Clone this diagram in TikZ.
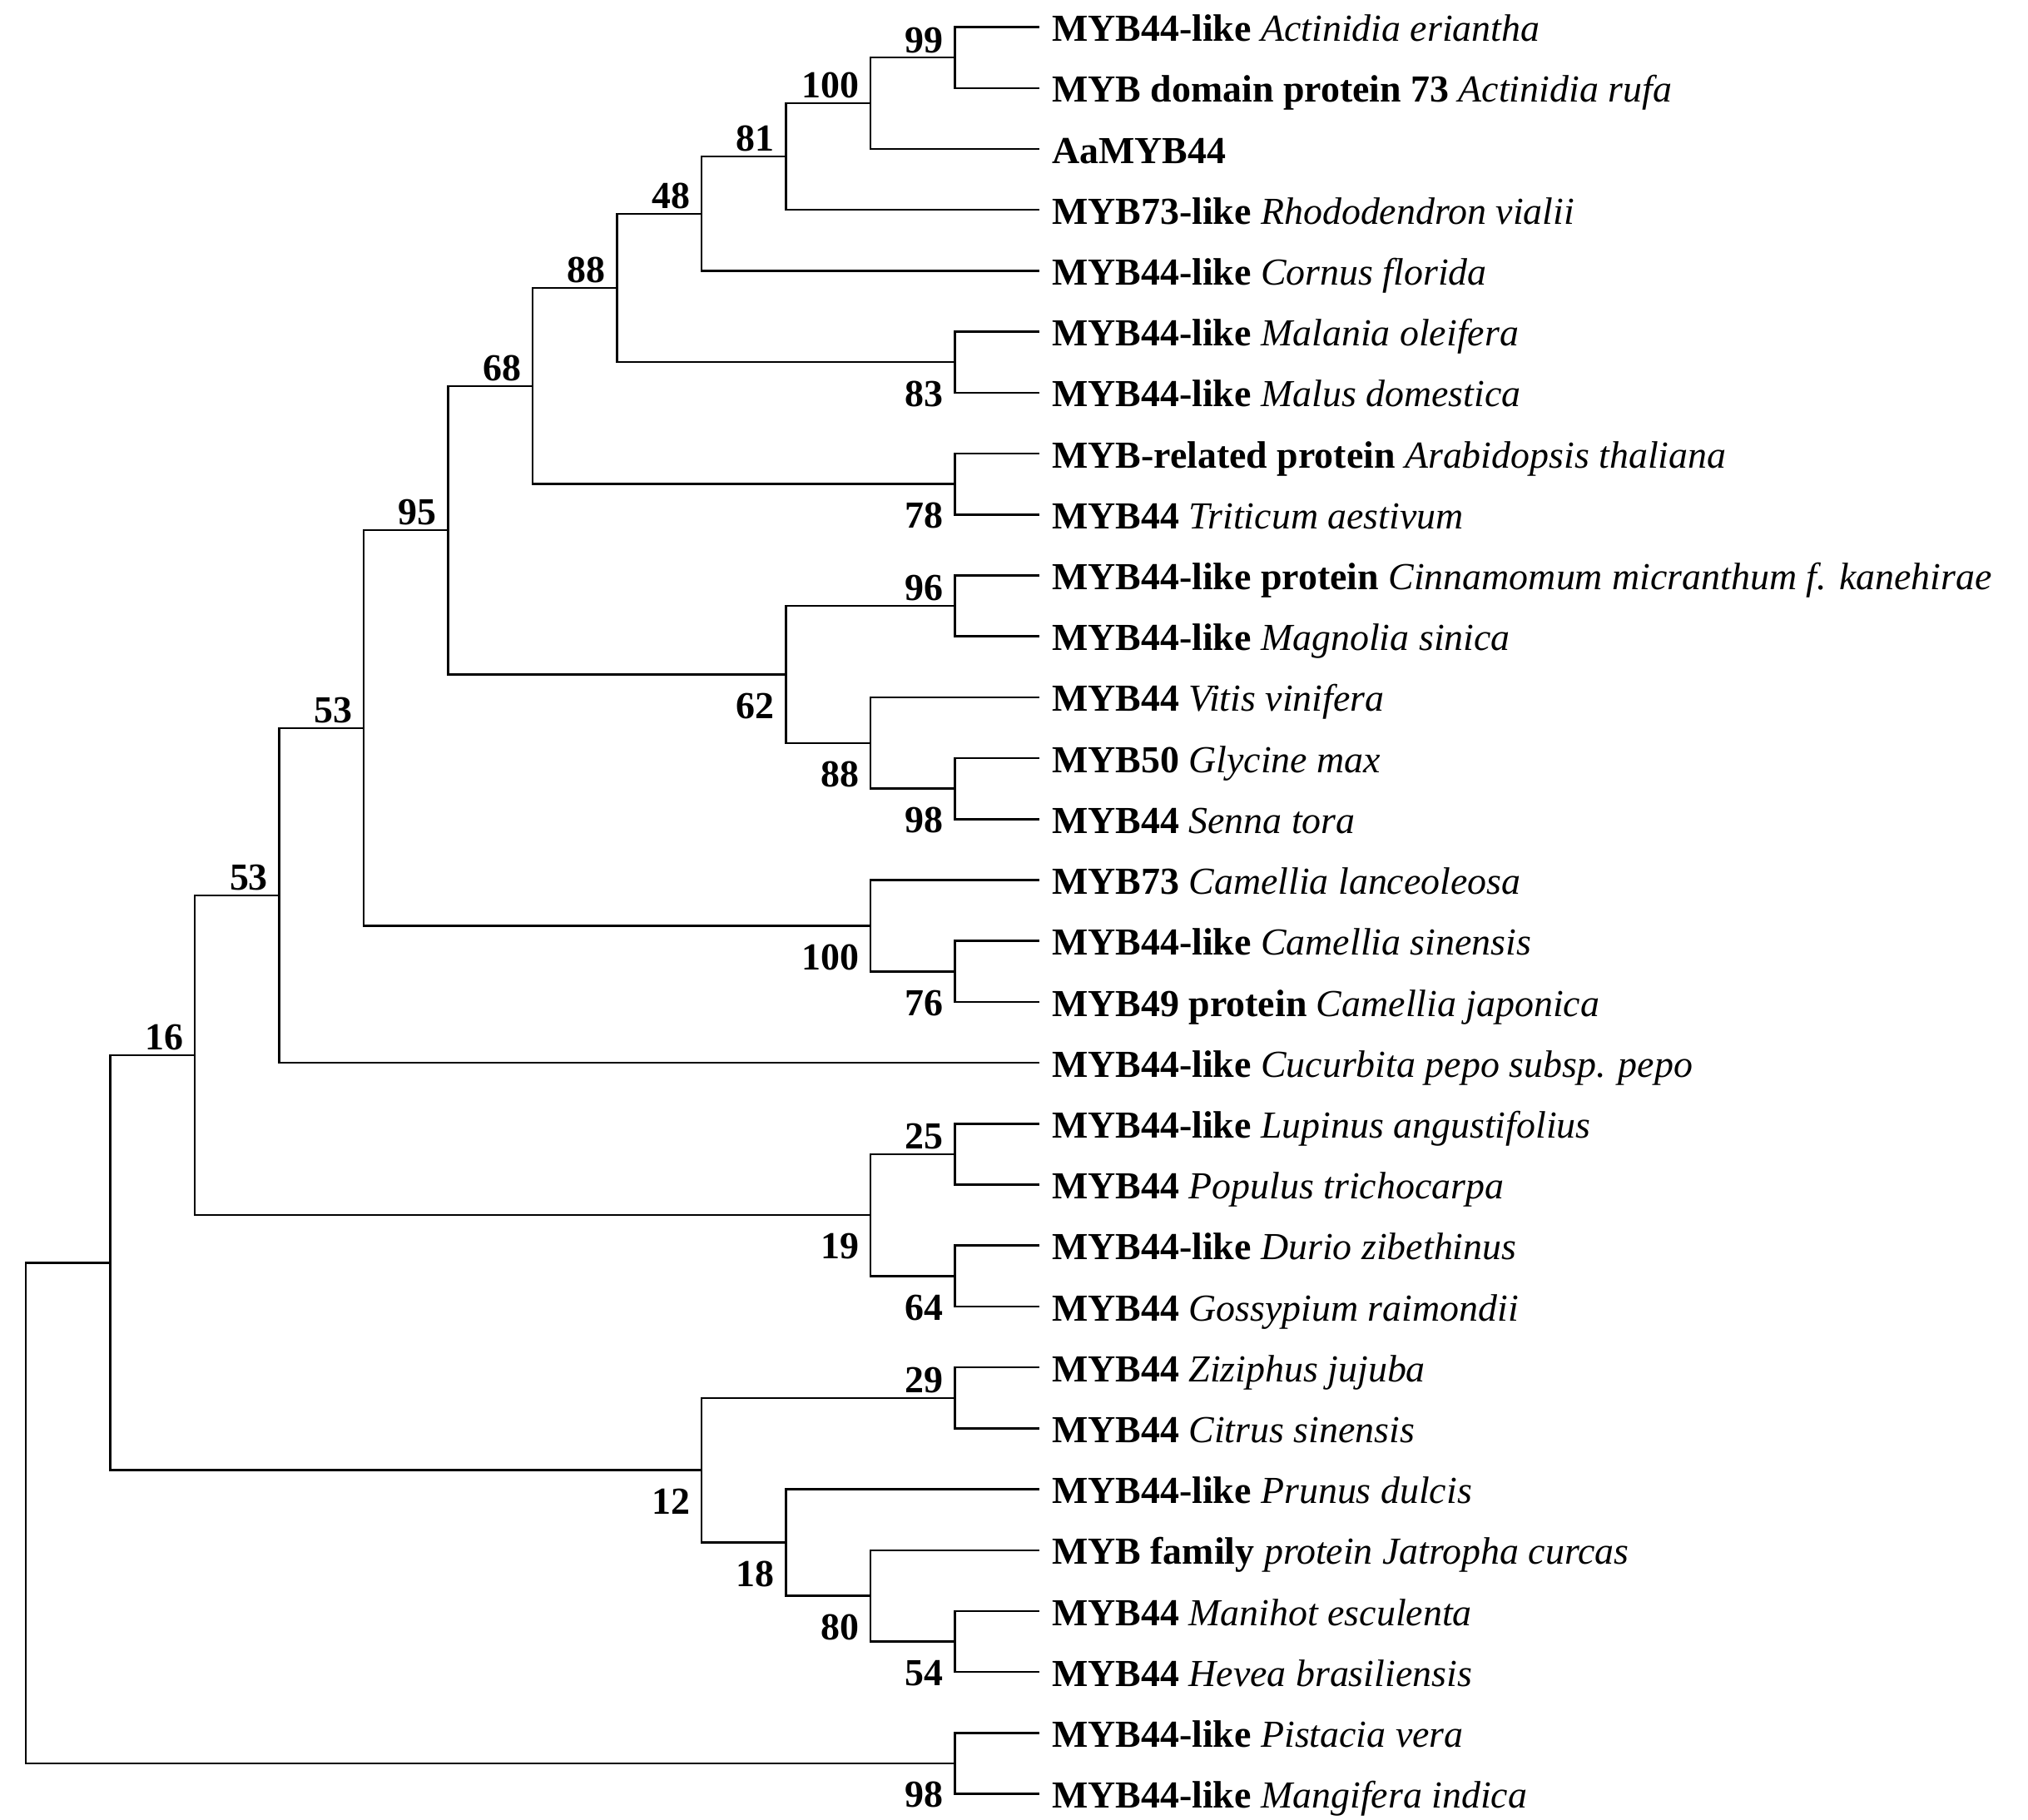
\documentclass[tikz,border=0pt]{standalone}
\usepackage{fontspec}
\setmainfont{Liberation Serif}
\newcommand{\species}[1]{{\mdseries\itshape #1}}

\begin{document}
\begin{tikzpicture}[x=1.306cm, y=-0.942cm, line width=0.9pt,
    leaf/.style={anchor=base west, inner sep=0pt, xshift=0.18cm, yshift=-0.22cm, font=\fontsize{16.8}{20}\selectfont\bfseries},
    bsup/.style={anchor=base east, inner sep=0pt, xshift=-0.16cm, yshift=0.08cm, font=\fontsize{16.8}{20}\selectfont\bfseries},
    bsdown/.style={anchor=base east, inner sep=0pt, xshift=-0.16cm, yshift=-0.68cm, font=\fontsize{16.8}{20}\selectfont\bfseries}]
\useasboundingbox (-0.3063,0.5541) rectangle (23.706,30.427);

% leaf tips
\foreach \i in {1,...,30} {
  \coordinate (t\i) at (12,\i);
}

% leaf labels
\node[leaf] (l1) at (t1) {MYB44-like \species{Actinidia eriantha}};
\node[leaf] (l2) at (t2) {MYB domain protein 73 \species{Actinidia rufa}};
\node[leaf] (l3) at (t3) {AaMYB44};
\node[leaf] (l4) at (t4) {MYB73-like \species{Rhododendron vialii}};
\node[leaf] (l5) at (t5) {MYB44-like \species{Cornus florida}};
\node[leaf] (l6) at (t6) {MYB44-like \species{Malania oleifera}};
\node[leaf] (l7) at (t7) {MYB44-like \species{Malus domestica}};
\node[leaf] (l8) at (t8) {MYB-related protein \species{Arabidopsis thaliana}};
\node[leaf] (l9) at (t9) {MYB44 \species{Triticum aestivum}};
\node[leaf] (l10) at (t10) {MYB44-like protein \species{Cinnamomum micranthum f. kanehirae}};
\node[leaf] (l11) at (t11) {MYB44-like \species{Magnolia sinica}};
\node[leaf] (l12) at (t12) {MYB44 \species{Vitis vinifera}};
\node[leaf] (l13) at (t13) {MYB50 \species{Glycine max}};
\node[leaf] (l14) at (t14) {MYB44 \species{Senna tora}};
\node[leaf] (l15) at (t15) {MYB73 \species{Camellia lanceoleosa}};
\node[leaf] (l16) at (t16) {MYB44-like \species{Camellia sinensis}};
\node[leaf] (l17) at (t17) {MYB49 protein \species{Camellia japonica}};
\node[leaf] (l18) at (t18) {MYB44-like \species{Cucurbita pepo subsp. pepo}};
\node[leaf] (l19) at (t19) {MYB44-like \species{Lupinus angustifolius}};
\node[leaf] (l20) at (t20) {MYB44 \species{Populus trichocarpa}};
\node[leaf] (l21) at (t21) {MYB44-like \species{Durio zibethinus}};
\node[leaf] (l22) at (t22) {MYB44 \species{Gossypium raimondii}};
\node[leaf] (l23) at (t23) {MYB44 \species{Ziziphus jujuba}};
\node[leaf] (l24) at (t24) {MYB44 \species{Citrus sinensis}};
\node[leaf] (l25) at (t25) {MYB44-like \species{Prunus dulcis}};
\node[leaf] (l26) at (t26) {MYB family \species{protein Jatropha curcas}};
\node[leaf] (l27) at (t27) {MYB44 \species{Manihot esculenta}};
\node[leaf] (l28) at (t28) {MYB44 \species{Hevea brasiliensis}};
\node[leaf] (l29) at (t29) {MYB44-like \species{Pistacia vera}};
\node[leaf] (l30) at (t30) {MYB44-like \species{Mangifera indica}};

% inner nodes
\coordinate (n99) at (11,1.5);
\coordinate (n100a) at (10,2.25);
\coordinate (n81) at (9,3.125);
\coordinate (n48) at (8,4.0625);
\coordinate (n83) at (11,6.5);
\coordinate (n88a) at (7,5.28125);
\coordinate (n78) at (11,8.5);
\coordinate (n68) at (6,6.890625);
\coordinate (n96) at (11,10.5);
\coordinate (n98a) at (11,13.5);
\coordinate (n88b) at (10,12.75);
\coordinate (n62) at (9,11.625);
\coordinate (n95) at (5,9.2578);
\coordinate (n76) at (11,16.5);
\coordinate (n100b) at (10,15.75);
\coordinate (n53a) at (4,12.5039);
\coordinate (n53b) at (3,15.252);
\coordinate (n25) at (11,19.5);
\coordinate (n64) at (11,21.5);
\coordinate (n19) at (10,20.5);
\coordinate (n16) at (2,17.876);
\coordinate (n29) at (11,23.5);
\coordinate (n54) at (11,27.5);
\coordinate (n80) at (10,26.75);
\coordinate (n18) at (9,25.875);
\coordinate (n12) at (8,24.6875);
\coordinate (n1612) at (1,21.2817);
\coordinate (n98b) at (11,29.5);
\coordinate (root) at (0,25.39);

% branches
\draw (n99) |- (t1);
\draw (n99) |- (t2);
\draw (n100a) |- (n99);
\draw (n100a) |- (t3);
\draw (n81) |- (n100a);
\draw (n81) |- (t4);
\draw (n48) |- (n81);
\draw (n48) |- (t5);
\draw (n83) |- (t6);
\draw (n83) |- (t7);
\draw (n88a) |- (n48);
\draw (n88a) |- (n83);
\draw (n78) |- (t8);
\draw (n78) |- (t9);
\draw (n68) |- (n88a);
\draw (n68) |- (n78);

\draw (n96) |- (t10);
\draw (n96) |- (t11);
\draw (n98a) |- (t13);
\draw (n98a) |- (t14);
\draw (n88b) |- (t12);
\draw (n88b) |- (n98a);
\draw (n62) |- (n96);
\draw (n62) |- (n88b);
\draw (n95) |- (n68);
\draw (n95) |- (n62);

\draw (n76) |- (t16);
\draw (n76) |- (t17);
\draw (n100b) |- (t15);
\draw (n100b) |- (n76);
\draw (n53a) |- (n95);
\draw (n53a) |- (n100b);
\draw (n53b) |- (n53a);
\draw (n53b) |- (t18);

\draw (n25) |- (t19);
\draw (n25) |- (t20);
\draw (n64) |- (t21);
\draw (n64) |- (t22);
\draw (n19) |- (n25);
\draw (n19) |- (n64);
\draw (n16) |- (n53b);
\draw (n16) |- (n19);

\draw (n29) |- (t23);
\draw (n29) |- (t24);
\draw (n54) |- (t27);
\draw (n54) |- (t28);
\draw (n80) |- (t26);
\draw (n80) |- (n54);
\draw (n18) |- (t25);
\draw (n18) |- (n80);
\draw (n12) |- (n29);
\draw (n12) |- (n18);
\draw (n1612) |- (n16);
\draw (n1612) |- (n12);

\draw (n98b) |- (t29);
\draw (n98b) |- (t30);
\draw (root) |- (n1612);
\draw (root) |- (n98b);

% bootstrap values
\node[bsup] (b99) at (n99) {99};
\node[bsup] (b100a) at (n100a) {100};
\node[bsup] (b81) at (n81) {81};
\node[bsup] (b48) at (n48) {48};
\node[bsdown] (b83) at (n83) {83};
\node[bsup] (b88a) at (n88a) {88};
\node[bsdown] (b78) at (n78) {78};
\node[bsup] (b68) at (n68) {68};
\node[bsup] (b96) at (n96) {96};
\node[bsdown] (b98a) at (n98a) {98};
\node[bsdown] (b88b) at (n88b) {88};
\node[bsdown] (b62) at (n62) {62};
\node[bsup] (b95) at (n95) {95};
\node[bsdown] (b76) at (n76) {76};
\node[bsdown] (b100b) at (n100b) {100};
\node[bsup] (b53a) at (n53a) {53};
\node[bsup] (b53b) at (n53b) {53};
\node[bsup] (b25) at (n25) {25};
\node[bsdown] (b64) at (n64) {64};
\node[bsdown] (b19) at (n19) {19};
\node[bsup] (b16) at (n16) {16};
\node[bsup] (b29) at (n29) {29};
\node[bsdown] (b54) at (n54) {54};
\node[bsdown] (b80) at (n80) {80};
\node[bsdown] (b18) at (n18) {18};
\node[bsdown] (b12) at (n12) {12};
\node[bsdown] (b98b) at (n98b) {98};

\end{tikzpicture}
\end{document}
